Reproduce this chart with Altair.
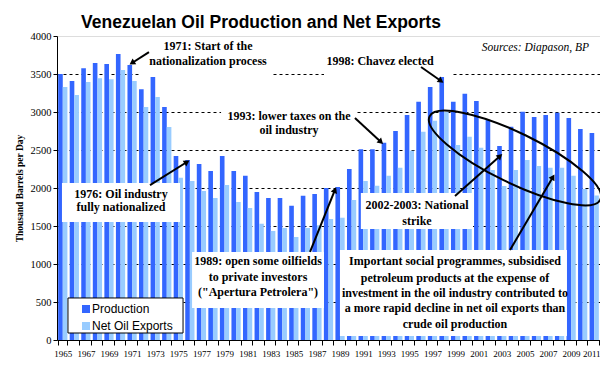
import altair as alt
import pandas as pd

# ---------------- data ----------------
years = list(range(1965, 2012))
production = [3500, 3408, 3575, 3645, 3632, 3763, 3618, 3298, 3460, 3066, 2421, 2368,
              2316, 2224, 2421, 2224, 2162, 1947, 1868, 1868, 1767, 1899, 1921, 2000, 2013,
              2250, 2509, 2509, 2596, 2750, 2961, 3136, 3329, 3474, 3136, 3241, 3145, 2899,
              2553, 2807, 3004, 2934, 2961, 2991, 2921, 2776, 2724]
net_exports = [3329, 3224, 3395, 3443, 3430, 3553, 3408, 3066, 3197, 2803, 2136, 2092,
               1960, 1868, 2039, 1816, 1737, 1530, 1434, 1474, 1355, 1474, 1509, 1592, 1609,
               1842, 2092, 2031, 2162, 2268, 2491, 2741, 2886, 3004, 2566, 2675, 2530, 2237,
               2025, 2237, 2368, 2289, 2268, 2268, 2162, 1987, 1900]
series_names = ["Production", "Net Oil Exports"]
series_colors = ["#3366FF", "#99CCFF"]
y_ticks = [0, 500, 1000, 1500, 2000, 2500, 3000, 3500, 4000]

TITLE = "Venezuelan Oil Production and Net Exports"
Y_TITLE = "Thousand Barrels per Day"
SOURCE = "Sources: Diapason, BP"

# annotation text lines (anchored in data units: year, value)
ann_text = [
    "1971: Start of the", "nationalization process",
    "1998: Chavez elected",
    "1993: lower taxes on the", "oil industry",
    "1976: Oil industry", "fully nationalized",
    "1989: open some oilfields", "to private investors", '("Apertura Petrolera")',
    "2002-2003: National", "strike",
    "Important social programmes, subsidised",
    "petroleum products at the expense of",
    "investment in the oil industry contributed to",
    "a more rapid decline in net oil exports than",
    "crude oil production",
]
ann_x = [1977.57, 1977.57, 1992.46, 1984.58, 1984.58, 1970.04, 1970.04,
         1981.90, 1981.90, 1981.90, 1995.66, 1995.66,
         1998.95, 1998.95, 1998.95, 1998.95, 1998.95]
ann_y = [3816, 3625, 3618, 2895, 2711, 1868, 1697, 987, 776, 579, 1724, 1513,
         987, 763, 566, 368, 158]

# white boxes behind annotations
box_x = [1971.77, 1987.61, 1978.70, 1964.93, 1976.19, 1990.80, 1988.99]
box_x2 = [1983.11, 1998.69, 1990.47, 1975.15, 1987.61, 2000.51, 2008.64]
box_y = [3987, 3816, 3118, 2066, 1158, 1934, 1184]
box_y2 = [3461, 3461, 2618, 1553, 421, 1461, 53]

# arrows: tail -> head
arr_x = [1972.46, 1996.01, 1990.29, 1972.55, 1986.40, 1998.95, 2003.71]
arr_y = [3789, 3592, 2921, 2039, 1158, 1895, 1184]
arr_x2 = [1970.99, 1997.74, 1992.54, 1975.75, 1988.56, 2002.85, 2007.43]
arr_y2 = [3645, 3408, 2605, 2342, 1974, 2421, 2145]
arr_angle = [237, 125, 133, 58, 22, 48, 30]

# ---------------- tables ----------------
df = pd.DataFrame({
    "year": years * 2,
    "series": [series_names[0]] * len(years) + [series_names[1]] * len(years),
    "value": production + net_exports,
})
ann_df = pd.DataFrame({"text": ann_text, "x": ann_x, "y": ann_y})
box_df = pd.DataFrame({"x": box_x, "x2": box_x2, "y": box_y, "y2": box_y2})
arr_df = pd.DataFrame({"x": arr_x, "y": arr_y, "x2": arr_x2, "y2": arr_y2, "angle": arr_angle})
ell_df = pd.DataFrame({"x": [2004.14], "y": [2395]})
src_df = pd.DataFrame({"text": [SOURCE], "x": [2010.55], "y": [3803]})
leg_box = pd.DataFrame({"x": [1965.45], "x2": [1975.41], "y": [553], "y2": [92]})
leg_items = pd.DataFrame({"series": series_names, "x": [1967.01, 1967.01], "y": [408, 184],
                          "tx": [1967.53, 1967.53], "ty": [355, 132]})
title_df = pd.DataFrame({"text": [TITLE]})

# ---------------- scales ----------------
color_scale = alt.Scale(domain=series_names, range=series_colors)
yscale = alt.Scale(domain=[0, 4000], nice=False, zero=True)
xq_scale = alt.Scale(domain=[1964.5, 2011.5], nice=False, zero=False)


def XQ(f):
    return alt.X(f"{f}:Q", scale=xq_scale, axis=None)


def YQ(f):
    return alt.Y(f"{f}:Q", scale=yscale, axis=None)


bars = alt.Chart(df).mark_bar(strokeWidth=0, opacity=1).encode(
    x=alt.X("year:O", scale=alt.Scale(paddingInner=0.2, paddingOuter=0.1),
            axis=alt.Axis(title=None, labelExpr="datum.value % 2 == 1 ? datum.label : ''",
                          labelAngle=0, labelOverlap=False, labelFont="Liberation Serif",
                          labelFontSize=9, labelColor="black", tickBand="extent",
                          tickSize=5, tickColor="black", domainColor="black",
                          labelPadding=4, grid=False, labelAlign="center",
                          labelOffset={"condition": {"test": "datum.value == 2011", "value": -3},
                                       "value": 0})),
    xOffset=alt.XOffset("series:N", sort=series_names),
    y=alt.Y("value:Q", scale=yscale,
            axis=alt.Axis(values=y_ticks, format="d", title=Y_TITLE, titleFont="Liberation Serif",
                          titleFontSize=9.5, titleFontWeight="bold", titleColor="black",
                          titlePadding=6, labelFont="Liberation Serif", labelFontSize=10.5,
                          labelColor="black", tickSize=4, tickColor="black",
                          domainColor="black", labelPadding=2, grid=True,
                          gridDash=[3, 3], gridColor="black", gridWidth=1,
                          gridOpacity={"condition": {"test": "datum.value === 0 || datum.value === 4000",
                                                     "value": 0}, "value": 1})),
    color=alt.Color("series:N", scale=color_scale, legend=None),
)

boxes = alt.Chart(box_df).mark_rect(fill="white").encode(
    x=XQ("x"), x2="x2", y=YQ("y"), y2="y2")

ellipse_path = ("M -1 0 C -1 -0.1453 -0.5523 -0.263 0 -0.263 "
                "C 0.5523 -0.263 1 -0.1453 1 0 "
                "C 1 0.1453 0.5523 0.263 0 0.263 "
                "C -0.5523 0.263 -1 0.1453 -1 0 Z")
ellipse = alt.Chart(ell_df).mark_point(shape=ellipse_path, filled=False, stroke="black",
                                       strokeWidth=2, size=36100, angle=26, opacity=1).encode(
    x=XQ("x"), y=YQ("y"))

arrows = alt.Chart(arr_df).mark_rule(color="black", strokeWidth=2).encode(
    x=XQ("x"), x2="x2", y=YQ("y"), y2="y2")
heads = alt.Chart(arr_df).mark_point(shape="triangle-up", filled=True, color="black",
                                     size=45, opacity=1).encode(
    x=XQ("x2"), y=YQ("y2"), angle=alt.Angle("angle:Q", scale=None))

texts = alt.Chart(ann_df).mark_text(font="Liberation Serif", fontSize=12, fontWeight="bold",
                                    color="black", align="center", baseline="alphabetic").encode(
    x=XQ("x"), y=YQ("y"), text="text:N")

source = alt.Chart(src_df).mark_text(font="Liberation Serif", fontSize=11.5, fontStyle="italic",
                                     color="black", align="right", baseline="alphabetic").encode(
    x=XQ("x"), y=YQ("y"), text="text:N")

legend_box = alt.Chart(leg_box).mark_rect(fill="white", stroke="black", strokeWidth=1).encode(
    x=XQ("x"), x2="x2", y=YQ("y"), y2="y2")
legend_sym = alt.Chart(leg_items).mark_point(shape="square", filled=True, size=64, opacity=1).encode(
    x=XQ("x"), y=YQ("y"), color=alt.Color("series:N", scale=color_scale, legend=None))
legend_txt = alt.Chart(leg_items).mark_text(font="Liberation Sans", fontSize=12, color="black",
                                            align="left", baseline="alphabetic").encode(
    x=XQ("tx"), y=YQ("ty"), text="series:N")

title = alt.Chart(title_df).mark_text(font="Liberation Sans", fontSize=17.5, fontWeight="bold",
                                      color="black", align="center", baseline="alphabetic").encode(
    x=alt.value(204), y=alt.value(-8), text="text:N")

chart = alt.layer(
    bars, boxes, ellipse, arrows, heads, texts, source, legend_box, legend_sym, legend_txt, title
).resolve_scale(x="independent").resolve_axis(y="independent").properties(
    width=543, height=304,
    padding={"left": 49, "top": 28, "right": 0, "bottom": 25},
    autosize=alt.AutoSizeParams(type="none"),
).configure_view(stroke="#808080", strokeWidth=1).configure(background="white")

chart.save("out.html", embed_options={"renderer": "svg", "actions": False})
